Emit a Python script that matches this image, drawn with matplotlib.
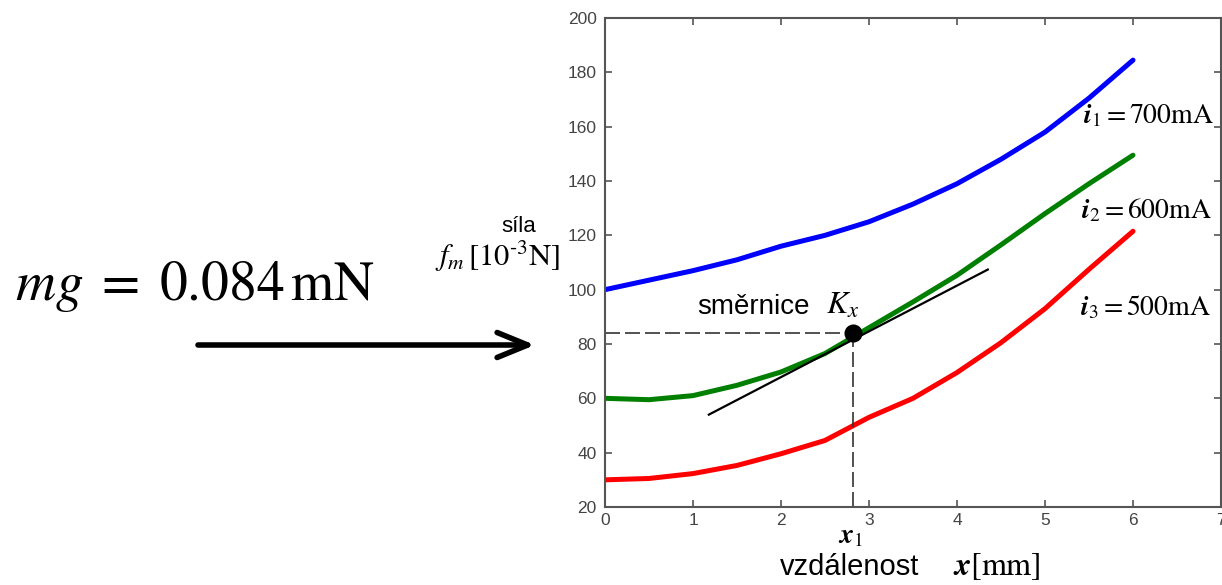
import numpy as np
import matplotlib
matplotlib.use("Agg")
import matplotlib.pyplot as plt

plt.rcParams['mathtext.fontset'] = 'stix'
plt.rcParams['font.family'] = ['Liberation Sans', 'DejaVu Sans']

# ---- data ----
x_vals = [0, 0.5, 1, 1.5, 2, 2.5, 3, 3.5, 4, 4.5, 5, 5.5, 6]
i1_700 = [100, 103.5, 107, 111, 116, 120, 125, 131.5, 139, 148, 158, 170.5, 184.5]
i2_600 = [60, 59.5, 61, 64.8, 69.7, 76.5, 86, 95.5, 105.3, 116.5, 128, 139, 149.5]
i3_500 = [30, 30.5, 32.3, 35.3, 39.6, 44.5, 53, 60, 69.5, 80.5, 93, 107.5, 121.5]
tangent_x = [1.18, 4.35]
tangent_y = [54.0, 107.4]
x1 = 2.82
mg = 84
x_ticks = [0, 1, 2, 3, 4, 5, 6, 7]
y_ticks = [20, 40, 60, 80, 100, 120, 140, 160, 180, 200]
labels = ['$\\boldsymbol{i}_1 = 700\\mathrm{mA}$',
          '$\\boldsymbol{i}_2 = 600\\mathrm{mA}$',
          '$\\boldsymbol{i}_3 = 500\\mathrm{mA}$']

W, H = 1222, 585
fig = plt.figure(figsize=(W / 100, H / 100), dpi=100)
fig.patch.set_facecolor('white')

def fx(px):
    return px / W

def fy(py):
    return 1 - py / H

ax = fig.add_axes([fx(605), fy(507), (1221 - 605) / W, (507 - 18) / H])
ax.set_xlim(0, 7)
ax.set_ylim(20, 200)
ax.set_xticks(x_ticks)
ax.set_yticks(y_ticks)
ax.tick_params(direction='in', length=5, width=1.2, color='#555555',
               labelcolor='#444444', labelsize=12.5, top=True, right=True,
               pad=4)
ax.tick_params(axis='y', pad=6)
for s in ax.spines.values():
    s.set_color('#555555')
    s.set_linewidth(1.5)

ax.plot(x_vals, i1_700, color='#0000ff', lw=3.6, solid_capstyle='round', solid_joinstyle='round')
ax.plot(x_vals, i2_600, color='#007f00', lw=3.6, solid_capstyle='round', solid_joinstyle='round')
ax.plot(x_vals, i3_500, color='#ff0000', lw=3.6, solid_capstyle='round', solid_joinstyle='round')
ax.plot(tangent_x, tangent_y, color='black', lw=1.6)

ln1, = ax.plot([0, x1], [mg, mg], color='#333333', lw=1.2)
ln1.set_dashes((9, 3))
ln2, = ax.plot([x1, x1], [20, mg], color='#333333', lw=1.2)
ln2.set_dashes((9, 3))
ax.plot([x1], [mg], 'o', color='black', markersize=12, zorder=5)

# curve labels
fig.text(fx(1083), fy(123), labels[0], fontsize=20, ha='left', va='baseline')
fig.text(fx(1081), fy(218), labels[1], fontsize=20, ha='left', va='baseline')
fig.text(fx(1080), fy(315), labels[2], fontsize=20, ha='left', va='baseline')

# slope label
fig.text(fx(697), fy(314), 'směrnice', fontsize=20, ha='left', va='baseline')
fig.text(fx(826), fy(314), '$K_x$', fontsize=23, ha='left', va='baseline')

# axis labels
fig.text(fx(519), fy(232), 'síla', fontsize=16, ha='center', va='baseline')
fig.text(fx(435), fy(266), '$f_m\\,[10^{\\text{-}3}\\mathrm{N}]$', fontsize=22,
         ha='left', va='baseline')
fig.text(fx(838), fy(543), '$\\boldsymbol{x}_1$', fontsize=20, ha='left', va='baseline')
fig.text(fx(780), fy(575), 'vzdálenost', fontsize=21, ha='left', va='baseline')
fig.text(fx(953), fy(575), '$\\boldsymbol{x}[\\mathrm{mm}]$', fontsize=23,
         ha='left', va='baseline')

# mg annotation
fig.text(fx(15), fy(300), '$mg\\;=\\;0.084\\,\\mathrm{mN}$', fontsize=40,
         ha='left', va='baseline')
ax.annotate('', xy=(fx(535), fy(345)), xytext=(fx(198), fy(345)),
            xycoords='figure fraction', textcoords='figure fraction',
            arrowprops=dict(arrowstyle='->,head_length=1.1,head_width=0.45',
                            lw=4, color='black', mutation_scale=20,
                            shrinkA=0, shrinkB=0))

fig.savefig('out.png', dpi=100, facecolor='white')
